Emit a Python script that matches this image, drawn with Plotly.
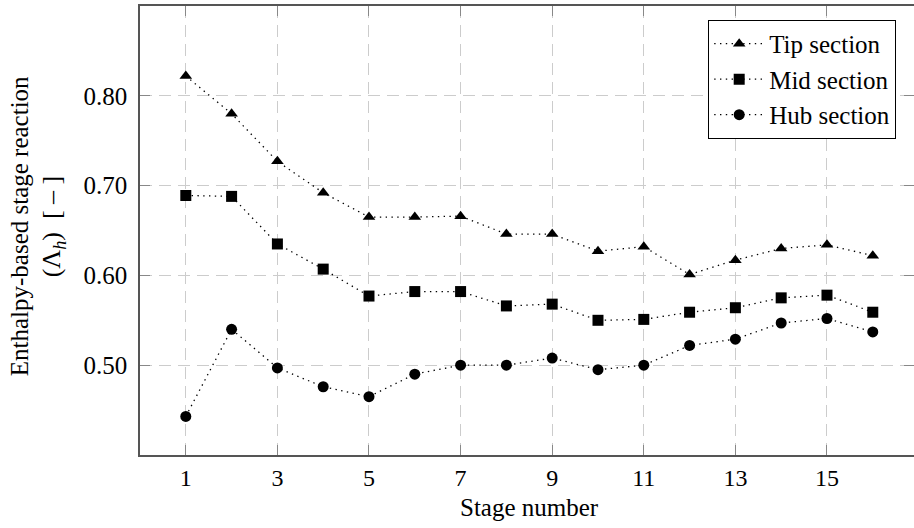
import plotly.graph_objects as go

stages = list(range(1, 17))
tip = [0.822, 0.780, 0.727, 0.692, 0.665, 0.665, 0.666, 0.646, 0.646, 0.627, 0.632, 0.601, 0.617, 0.630, 0.634, 0.622]
mid = [0.689, 0.688, 0.635, 0.607, 0.577, 0.582, 0.582, 0.566, 0.568, 0.550, 0.551, 0.559, 0.564, 0.575, 0.578, 0.559]
hub = [0.443, 0.540, 0.497, 0.476, 0.465, 0.490, 0.500, 0.500, 0.508, 0.495, 0.500, 0.522, 0.529, 0.547, 0.552, 0.537]
x_ticks = [1, 3, 5, 7, 9, 11, 13, 15]
y_ticks = [0.5, 0.6, 0.7, 0.8]
y_labels = ["0.50", "0.60", "0.70", "0.80"]

FONT = "Liberation Serif, DejaVu Serif, serif"
fig = go.Figure()
for name, vals, sym in [("Tip section", tip, "triangle-up"),
                        ("Mid section", mid, "square"),
                        ("Hub section", hub, "circle")]:
    fig.add_trace(go.Scatter(
        x=stages, y=vals, name=name, mode="lines+markers",
        line=dict(color="black", width=1.3, dash="1.4px,4.4px"),
        marker=dict(symbol=sym, size=11, color="black"),
    ))

# invisible trace for the right-side ticks
fig.add_trace(go.Scatter(x=[stages[0]], y=[tip[0]], yaxis="y2", showlegend=False,
                         mode="markers", marker=dict(opacity=0), hoverinfo="skip"))

fig.update_layout(
    width=914, height=528,
    margin=dict(l=140, r=0, t=6, b=73),
    paper_bgcolor="white", plot_bgcolor="white",
    font=dict(family=FONT, size=24, color="black"),
    showlegend=True,
    legend=dict(x=0.977, y=0.969, xanchor="right", yanchor="top",
                bordercolor="black", borderwidth=1, bgcolor="white",
                font=dict(family=FONT, size=25), tracegroupgap=0, itemwidth=50,
                entrywidth=0),
    xaxis=dict(range=[0, 16.9], tickvals=x_ticks, showline=True, linecolor="#555555",
               linewidth=1.5, mirror="ticks", ticks="inside", ticklen=10, tickcolor="#888888",
               showgrid=True, gridcolor="#cccccc", griddash="12px,7px", gridwidth=1,
               zeroline=False, tickfont=dict(family=FONT, size=24), ticklabelstandoff=0),
    yaxis=dict(range=[0.40, 0.90], tickvals=y_ticks, ticktext=y_labels, showline=True,
               linecolor="#555555", linewidth=1.5, mirror=False, ticks="inside", ticklen=10,
               tickcolor="#888888", showgrid=True, gridcolor="#cccccc", griddash="12px,7px",
               gridwidth=1, zeroline=False, tickfont=dict(family=FONT, size=25),
               ticklabelstandoff=6),
    yaxis2=dict(range=[0.40, 0.90], tickvals=y_ticks, overlaying="y", side="right",
                showline=False, ticks="inside", ticklen=10, tickcolor="#888888",
                showticklabels=False, showgrid=False, zeroline=False),
)

fig.add_annotation(text="Enthalpy-based stage reaction", textangle=-90, xref="paper", yref="paper",
                   x=-0.156, y=0.51, xanchor="center", yanchor="middle", showarrow=False,
                   font=dict(family=FONT, size=25))
fig.add_annotation(text="(Λ<sub><i>h</i></sub>)  [ – ]", textangle=-90, xref="paper", yref="paper",
                   x=-0.112, y=0.51, xanchor="center", yanchor="middle", showarrow=False,
                   font=dict(family=FONT, size=26))
fig.add_annotation(text="Stage number", xref="paper", yref="paper",
                   x=0.503, y=-0.117, xanchor="center", yanchor="middle", showarrow=False,
                   font=dict(family=FONT, size=25))

fig.write_html("out.html", config={"displayModeBar": False},
               post_script="document.body.style.margin='0';document.body.style.overflow='hidden';")
